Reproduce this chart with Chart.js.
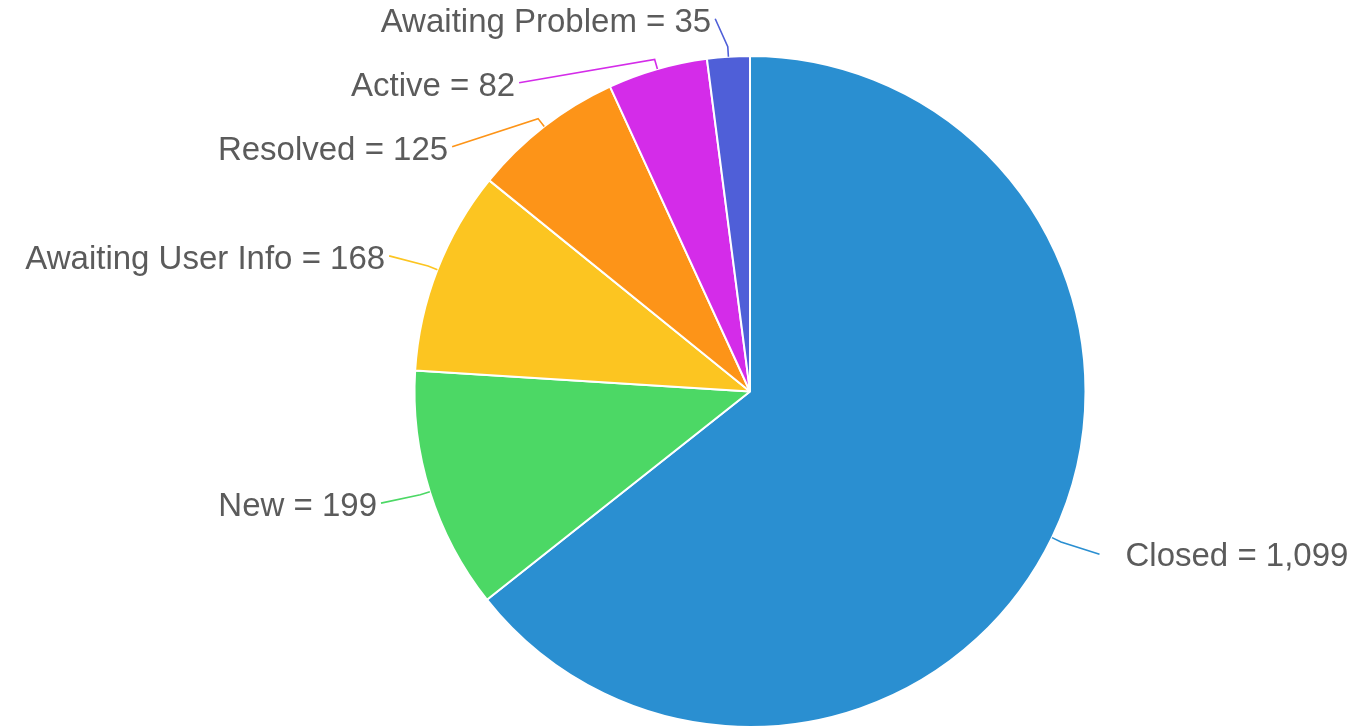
<!DOCTYPE html>
<html>
<head>
<meta charset="utf-8">
<script src="https://cdn.jsdelivr.net/npm/chart.js@4/dist/chart.umd.min.js"></script>
<style>
  html, body { margin: 0; padding: 0; background: #fff; }
  #wrap { width: 1353px; height: 728px; }
</style>
</head>
<body>
<div id="wrap"><canvas id="pie"></canvas></div>
<script>
const statuses = ['Closed', 'New', 'Awaiting User Info', 'Resolved', 'Active', 'Awaiting Problem'];
const counts = [1099, 199, 168, 125, 82, 35];
const sliceColors = ['#2a8fd1', '#4cd865', '#fcc521', '#fd9418', '#d42ce9', '#4f5fd8'];

// draws "Name = value" labels with leader lines, pushed apart on each side
const outsideLabels = {
    id: 'outsideLabels',
    afterDatasetsDraw(chart) {
        const ctx = chart.ctx;
        const meta = chart.getDatasetMeta(0);
        const items = [];
        meta.data.forEach((arc, i) => {
            const mid = (arc.startAngle + arc.endAngle) / 2;
            const cos = Math.cos(mid), sin = Math.sin(mid);
            const r = arc.outerRadius;
            items.push({
                i, cos, sin, cx: arc.x, cy: arc.y, r,
                side: cos >= 0 ? 1 : -1,
                y: arc.y + (r + 38) * sin
            });
        });

        [1, -1].forEach(side => {
            const list = items.filter(it => it.side === side).sort((a, b) => a.y - b.y);
            for (let k = 1; k < list.length; k++) {
                list[k].y = Math.max(list[k].y, list[k - 1].y + 64);
            }
        });

        ctx.save();
        ctx.font = '33px "Liberation Sans", Helvetica, Arial, sans-serif';
        ctx.textBaseline = 'middle';
        items.forEach(it => {
            const R = it.r + 50;
            const dy = it.y - it.cy;
            const ex = it.cx + it.r * it.cos, ey = it.cy + it.r * it.sin;
            const bx = it.cx + (it.r + 10) * it.cos, by = it.cy + (it.r + 10) * it.sin;
            let endX = it.cx + it.side * Math.sqrt(Math.max(R * R - dy * dy, 0));
            if (it.y < by - 20) {
                // label sits well above its elbow: run the connector mostly upward
                endX = bx + it.side * 0.45 * (by - it.y);
            }

            ctx.strokeStyle = sliceColors[it.i];
            ctx.lineWidth = 1.6;
            ctx.beginPath();
            ctx.moveTo(ex, ey);
            ctx.lineTo(bx, by);
            ctx.lineTo(endX, it.y);
            ctx.stroke();

            ctx.fillStyle = '#5b5b5b';
            const text = statuses[it.i] + ' = ' + counts[it.i].toLocaleString('en-US');
            if (it.side > 0) {
                ctx.textAlign = 'left';
                ctx.fillText(text, endX + 26, it.y + 3);
            } else {
                ctx.textAlign = 'right';
                ctx.fillText(text, endX - 4, it.y + 4);
            }
        });
        ctx.restore();
    }
};

new Chart(document.getElementById('pie'), {
    type: 'pie',
    data: {
        labels: statuses,
        datasets: [{
            data: counts,
            backgroundColor: sliceColors,
            borderColor: '#ffffff',
            borderWidth: 2
        }]
    },
    options: {
        responsive: true,
        maintainAspectRatio: false,
        animation: false,
        layout: { padding: { top: 55, bottom: 0, left: 413, right: 266 } },
        plugins: {
            legend: { display: false },
            tooltip: { enabled: false }
        }
    },
    plugins: [outsideLabels]
});
</script>
</body>
</html>
